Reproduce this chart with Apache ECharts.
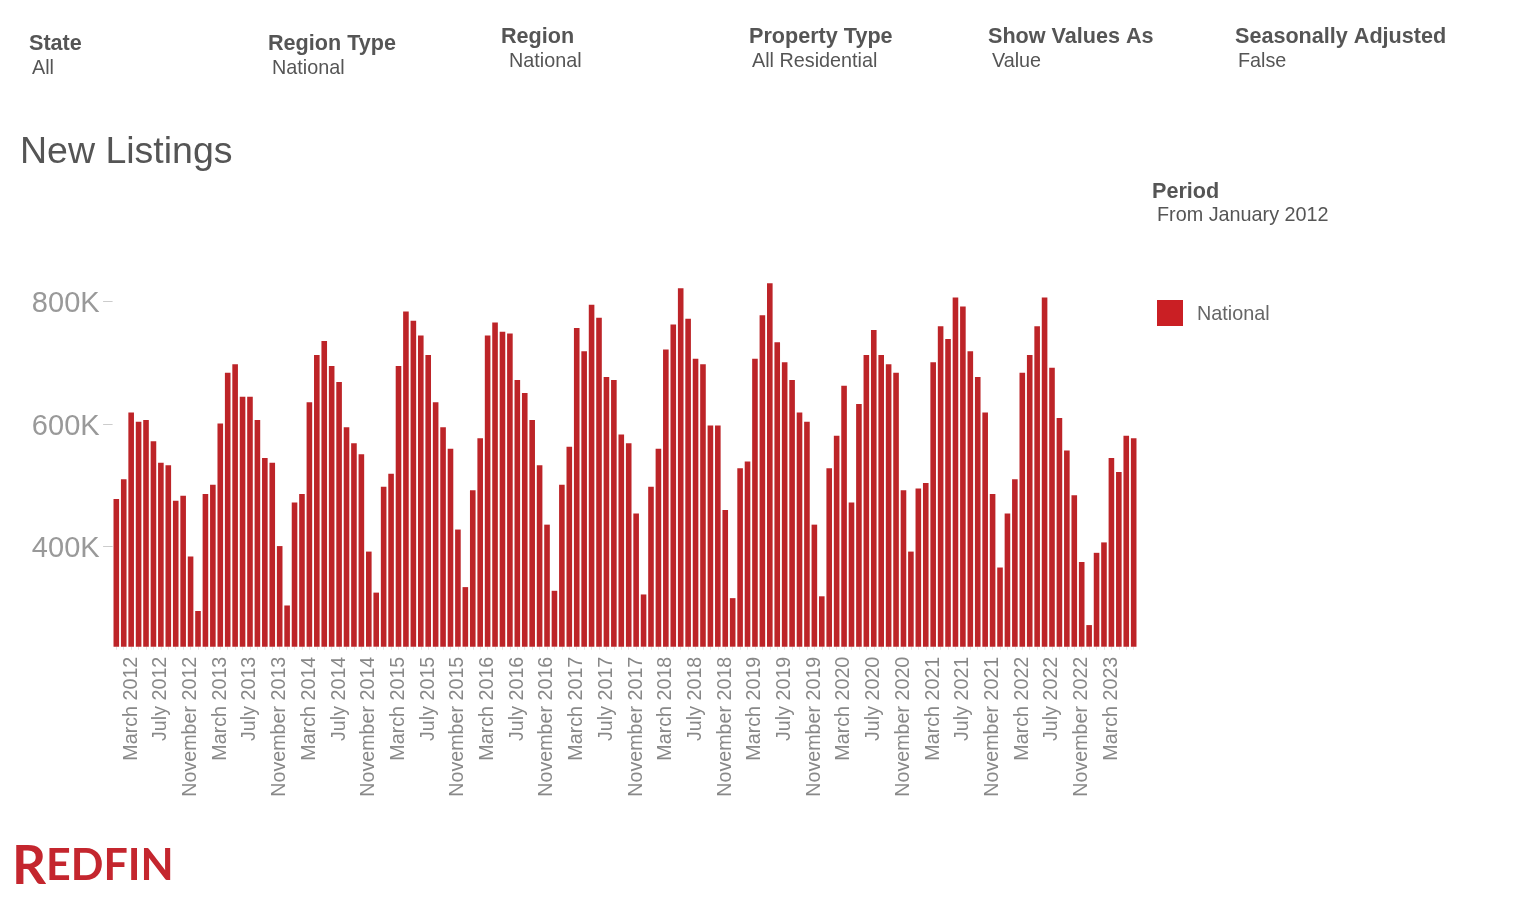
<!DOCTYPE html>
<html>
<head>
<meta charset="utf-8">
<title>New Listings</title>
<script src="https://cdn.jsdelivr.net/npm/echarts@6/dist/echarts.min.js"></script>
<style>
  html, body { margin: 0; padding: 0; background: #fff; }
  #main { width: 1528px; height: 898px; }
</style>
</head>
<body>
<div id="main"></div>
<script>
// values in thousands
var v2012 = [478, 510, 619, 604, 607, 572, 537, 533, 475, 483, 384, 295];
var v2013 = [486, 501, 601, 684, 698, 645, 645, 607, 545, 537, 401, 304];
var v2014 = [472, 486, 636, 713, 736, 695, 669, 595, 569, 551, 392, 325];
var v2015 = [498, 519, 695, 784, 769, 745, 713, 636, 595, 560, 428, 334];
var v2016 = [492, 577, 745, 766, 751, 748, 672, 651, 607, 533, 436, 328];
var v2017 = [501, 563, 757, 719, 795, 774, 677, 672, 583, 569, 454, 322];
var v2018 = [498, 560, 722, 763, 822, 772, 707, 698, 598, 598, 460, 316];
var v2019 = [528, 539, 707, 778, 830, 734, 701, 672, 619, 604, 436, 319];
var v2020 = [528, 581, 663, 472, 633, 713, 754, 713, 698, 684, 492, 392];
var v2021 = [495, 504, 701, 760, 739, 807, 792, 719, 677, 619, 486, 366];
var v2022 = [454, 510, 684, 713, 760, 807, 692, 610, 557, 484, 375, 272];
var v2023 = [390, 407, 545, 522, 581, 577];

var yearValues = [v2012, v2013, v2014, v2015, v2016, v2017, v2018, v2019, v2020, v2021, v2022, v2023];
var monthNames = ['January', 'February', 'March', 'April', 'May', 'June', 'July',
  'August', 'September', 'October', 'November', 'December'];
var yTicks = [400, 600, 800];

var filterNames = ['State', 'Region Type', 'Region', 'Property Type', 'Show Values As', 'Seasonally Adjusted'];
var filterValues = ['All', 'National', 'National', 'All Residential', 'Value', 'False'];

var categories = [];
var values = [];
yearValues.forEach(function (list, i) {
  list.forEach(function (v, m) {
    categories.push(monthNames[m] + ' ' + (2012 + i));
    values.push(v);
  });
});

var FONT = '"Liberation Sans", Arial, sans-serif';

// where the filter blocks sit: [x of name, y of name, x of value, y of value]
var filterPos = [
  [29, 33, 32, 59],
  [268, 33, 272, 59],
  [501, 26, 509, 52],
  [749, 26, 752, 52],
  [988, 26, 992, 52],
  [1235, 26, 1238, 52]
];

function label(text, x, y, size, weight, color) {
  return {
    text: text, left: x, top: y, padding: 0,
    textStyle: { fontFamily: FONT, fontSize: size, fontWeight: weight, color: color }
  };
}

var titles = [];
filterNames.forEach(function (name, i) {
  var p = filterPos[i];
  titles.push(label(name, p[0], p[1], 21.6, 'bold', '#555'));
  titles.push(label(filterValues[i], p[2], p[3], 19.8, 'normal', '#555'));
});
titles.push(label('New Listings', 20, 134, 37.5, 'normal', '#555'));
titles.push(label('Period', 1152, 181, 21.6, 'bold', '#555'));
titles.push(label('From January 2012', 1157, 206, 19.8, 'normal', '#555'));
// logo
titles.push({
  text: '{r|R}{e|EDFIN}', left: 12, top: 840, padding: 0,
  textStyle: {
    rich: {
      r: { fontFamily: 'Lato', fontSize: 53, fontWeight: 'bold', color: '#c4262e' },
      e: { fontFamily: 'Lato', fontSize: 43, fontWeight: 'bold', color: '#c4262e' }
    }
  }
});

var option = {
  backgroundColor: '#fff',
  animation: false,
  title: titles,
  legend: {
    left: 1157, top: 300, padding: 0,
    icon: 'rect', itemWidth: 26, itemHeight: 26, itemGap: 0,
    data: [{ name: 'National', itemStyle: { color: '#ca1f24' } }],
    formatter: '{a|{name}}',
    textStyle: {
      rich: { a: { fontFamily: FONT, fontSize: 19.8, color: '#666', padding: [4, 0, 0, 9] } }
    }
  },
  grid: { left: 112.6, top: 270, width: 1024.8, height: 376.7 },
  xAxis: {
    type: 'category',
    data: categories,
    axisLine: { show: false },
    axisTick: {
      show: true, alignWithLabel: true, interval: 0, length: 3,
      lineStyle: { color: '#e2e2e2', width: 1 }
    },
    axisLabel: {
      rotate: 90, margin: 10, color: '#888',
      fontFamily: FONT, fontSize: 19.7,
      interval: function (i) { return i % 4 === 2; }
    }
  },
  yAxis: {
    type: 'value', min: 236.7, max: 851.8,
    splitLine: { show: false },
    axisLine: { show: false },
    axisTick: {
      show: true, length: 9.5, customValues: yTicks,
      lineStyle: { color: '#ccc', width: 1 }
    },
    axisLabel: {
      margin: 13,
      customValues: yTicks,
      formatter: function (v) { return '{a|' + v + 'K}'; },
      rich: { a: { color: '#999', fontFamily: FONT, fontSize: 29, padding: [5, 0, 0, 0] } }
    }
  },
  series: [{
    name: 'National', type: 'bar', data: values,
    barWidth: 5.6,
    itemStyle: { color: '#bd2428' }
  }]
};

var chart = echarts.init(document.getElementById('main'));
chart.setOption(option);
</script>
</body>
</html>
